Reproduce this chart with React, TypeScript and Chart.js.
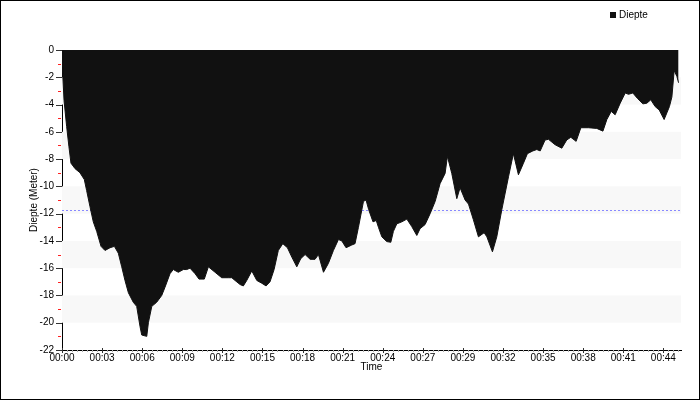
import React, { useEffect, useRef } from "react";
import { Chart, registerables } from "chart.js";

Chart.register(...registerables);

// Dive profile: time (minutes) and depth (metres, negative = below surface)
const TIME_MIN = [
  0, 0.05, 0.15, 0.34, 0.51, 0.66, 0.96, 1.32, 1.64, 1.81,
  2.06, 2.3, 2.55, 2.87, 3.16, 3.53, 3.85, 4.14, 4.39, 4.63,
  4.88, 5.24, 5.49, 5.74, 5.86, 6.23, 6.35, 6.6, 6.96, 7.33,
  7.57, 7.94, 8.18, 8.55, 8.92, 9.17, 9.41, 9.78, 10.07, 10.46,
  10.76, 11.25, 11.74, 12.23, 12.48, 12.72, 13.09, 13.33, 13.58, 13.95,
  14.32, 14.68, 15.0, 15.29, 15.59, 15.9, 16.23, 16.57, 16.9, 17.26,
  17.55, 17.87, 18.24, 18.6, 18.85, 19.22, 19.58, 19.95, 20.32, 20.57,
  20.88, 21.3, 21.54, 21.79, 22.16, 22.35, 22.54, 22.86, 23.1, 23.26,
  23.51, 23.87, 24.17, 24.36, 24.61, 24.98, 25.35, 25.71, 26.08, 26.32,
  26.69, 27.06, 27.43, 27.79, 28.16, 28.33, 28.65, 29.02, 29.26, 29.63,
  29.88, 30.24, 30.61, 31.03, 31.23, 31.64, 31.96, 32.33, 32.82, 33.18,
  33.55, 33.92, 34.21, 34.61, 34.9, 35.15, 35.51, 35.76, 36.25, 36.74,
  37.1, 37.4, 37.79, 38.14, 38.7, 39.31, 39.76, 40.05, 40.37, 40.66,
  41.03, 41.4, 41.64, 41.96, 42.3, 42.7, 42.99, 43.28, 43.6, 43.9,
  44.26, 44.65, 44.83, 45.0, 45.2, 45.32,
];

const DEPTH_M = [
  0, -1.7, -3.7, -5.6, -7.1, -8.3, -8.7, -9.0, -9.5, -10.3,
  -11.5, -12.6, -13.3, -14.4, -14.7, -14.5, -14.4, -14.9, -15.9, -16.9,
  -17.8, -18.5, -18.8, -20.3, -20.9, -21.0, -20.0, -18.8, -18.5, -18.0,
  -17.4, -16.4, -16.1, -16.3, -16.1, -16.1, -16.0, -16.4, -16.8, -16.8,
  -15.9, -16.3, -16.7, -16.7, -16.7, -16.9, -17.2, -17.3, -16.9, -16.2,
  -16.9, -17.1, -17.3, -17.0, -16.1, -14.7, -14.2, -14.5, -15.2, -15.9,
  -15.3, -15.0, -15.35, -15.35, -15.0, -16.3, -15.65, -14.7, -13.9, -14.0,
  -14.5, -14.3, -14.2, -13.0, -11.1, -11.0, -11.7, -12.6, -12.5, -13.0,
  -13.7, -14.05, -14.1, -13.3, -12.75, -12.6, -12.4, -12.95, -13.6, -13.1,
  -12.8, -12.0, -11.1, -9.8, -9.05, -7.8, -9.05, -10.9, -10.1, -11.0,
  -11.3, -12.45, -13.7, -13.4, -13.7, -14.8, -13.7, -11.7, -9.3, -7.6,
  -9.15, -8.3, -7.6, -7.4, -7.3, -7.4, -6.6, -6.55, -6.95, -7.2,
  -6.6, -6.4, -6.7, -5.7, -5.7, -5.75, -5.95, -5.1, -4.5, -4.75,
  -3.9, -3.15, -3.25, -3.15, -3.55, -3.95, -3.9, -3.65, -4.15, -4.4,
  -5.1, -4.15, -3.45, -1.5, -1.95, -2.4,
];

const SERIES_LABEL = "Diepte";
const AVG_DEPTH = -11.73;
const X_MAX = 45.5;
const X_TICK_STEP = 2.947; // minutes between labelled ticks
const X_MINOR_PER_MAJOR = 8;
const X_TICK_LABELS = [
  "00:00", "00:03", "00:06", "00:09", "00:12", "00:15", "00:18", "00:21",
  "00:24", "00:27", "00:29", "00:32", "00:35", "00:38", "00:41", "00:44",
];
const Y_MIN = -22;
const Y_MAX = 0;
const Y_MAJOR_STEP = 2;
const BAND_RANGES = [
  [-2, -4],
  [-6, -8],
  [-10, -12],
  [-14, -16],
  [-18, -20],
];

const FONT = "'Liberation Sans', Arial, sans-serif";
const FONT_SIZE = 10;

const isMajorX = (v: number) => {
  const k = v / X_TICK_STEP;
  return Math.abs(k - Math.round(k)) < 1e-6;
};
const isMajorY = (v: number) => Math.abs(Math.round(v)) % Y_MAJOR_STEP === 0;

export default function App() {
  const ref = useRef<HTMLCanvasElement | null>(null);

  useEffect(() => {
    if (!ref.current) return;

    const bgPlugin = {
      id: "bg",
      beforeDraw(chart: any) {
        const c = chart.ctx;
        c.save();
        c.fillStyle = "#ffffff";
        c.fillRect(0, 0, chart.width, chart.height);
        c.restore();
      },
    };

    const bandsPlugin = {
      id: "bands",
      beforeDatasetsDraw(chart: any) {
        const c = chart.ctx;
        const { left, right } = chart.chartArea;
        const y = chart.scales.y;
        c.save();
        c.fillStyle = "#f8f8f8";
        BAND_RANGES.forEach(([a, b]) => {
          const y1 = y.getPixelForValue(a);
          const y2 = y.getPixelForValue(b);
          c.fillRect(left, Math.min(y1, y2), right - left, Math.abs(y2 - y1));
        });
        // average depth line
        const ya = Math.round(y.getPixelForValue(AVG_DEPTH)) + 0.5;
        c.strokeStyle = "#8888ff";
        c.lineWidth = 1;
        c.setLineDash([2, 2]);
        c.beginPath();
        c.moveTo(left, ya);
        c.lineTo(right, ya);
        c.stroke();
        c.restore();
      },
    };

    const ticksPlugin = {
      id: "axisTicks",
      afterDraw(chart: any) {
        const c = chart.ctx;
        const xs = chart.scales.x;
        const ys = chart.scales.y;
        const left = Math.round(chart.chartArea.left);
        const bottom = Math.round(chart.chartArea.bottom);
        c.save();
        c.lineWidth = 1;
        c.setLineDash([]);
        // y ticks
        for (let v = Y_MIN; v <= Y_MAX; v++) {
          const py = Math.round(ys.getPixelForValue(v)) + 0.5;
          const major = isMajorY(v);
          c.strokeStyle = major ? "#333333" : "#ff2020";
          c.beginPath();
          if (major) {
            c.moveTo(left - 6, py);
            c.lineTo(left, py);
          } else {
            c.moveTo(left - 4, py);
            c.lineTo(left - 1, py);
          }
          c.stroke();
        }
        // x ticks
        xs.ticks.forEach((t: any) => {
          const px = Math.round(xs.getPixelForValue(t.value)) + 0.5;
          const major = isMajorX(t.value);
          c.strokeStyle = major ? "#333333" : "#aaaaaa";
          c.beginPath();
          if (major) {
            c.moveTo(px, bottom - 2);
            c.lineTo(px, bottom + 3);
          } else {
            c.moveTo(px, bottom);
            c.lineTo(px, bottom + 2);
          }
          c.stroke();
        });
        c.restore();
      },
    };

    const legendPlugin = {
      id: "customLegend",
      afterDraw(chart: any) {
        const c = chart.ctx;
        c.save();
        c.fillStyle = "#111111";
        c.fillRect(610, 12, 6, 6);
        c.fillStyle = "#000000";
        c.font = `${FONT_SIZE}px ${FONT}`;
        c.textBaseline = "middle";
        c.textAlign = "left";
        c.fillText(SERIES_LABEL, 619, 15.5);
        // outer border
        c.strokeStyle = "#000000";
        c.lineWidth = 1;
        c.strokeRect(0.5, 0.5, chart.width - 1, chart.height - 1);
        c.restore();
      },
    };

    const chart = new Chart(ref.current, {
      type: "line",
      data: {
        datasets: [
          {
            label: SERIES_LABEL,
            data: TIME_MIN.map((t, i) => ({ x: t, y: DEPTH_M[i] })),
            fill: "origin",
            backgroundColor: "#111111",
            borderColor: "#111111",
            borderWidth: 1,
            pointRadius: 0,
            tension: 0,
          },
        ],
      },
      options: {
        animation: false,
        responsive: false,
        layout: { padding: { top: 50, right: 19, left: 0, bottom: 0 } },
        plugins: {
          legend: { display: false },
          tooltip: { enabled: false },
        },
        scales: {
          x: {
            type: "linear",
            min: 0,
            max: X_MAX,
            afterBuildTicks(scale: any) {
              const ticks = [];
              const minor = X_TICK_STEP / X_MINOR_PER_MAJOR;
              for (let i = 0; i * minor <= X_MAX + 1e-9; i++) {
                ticks.push({ value: i * minor });
              }
              scale.ticks = ticks;
            },
            afterFit(scale: any) {
              scale.height = 50;
            },
            ticks: {
              autoSkip: false,
              maxRotation: 0,
              minRotation: 0,
              padding: 0,
              color: "#000000",
              font: { family: FONT, size: FONT_SIZE },
              callback(value: any) {
                const v = Number(value);
                if (!isMajorX(v)) return "";
                const k = Math.round(v / X_TICK_STEP);
                return X_TICK_LABELS[k] ?? "";
              },
            },
            grid: {
              display: false,
              drawTicks: true,
              tickLength: 2,
            },
            border: { display: true, color: "#000000" },
            title: {
              display: true,
              text: "Time",
              color: "#000000",
              font: { family: FONT, size: FONT_SIZE },
              padding: { top: 0, bottom: 27 },
            },
          },
          y: {
            type: "linear",
            min: Y_MIN,
            max: Y_MAX,
            afterFit(scale: any) {
              scale.width = 62;
            },
            ticks: {
              stepSize: Y_MAJOR_STEP,
              autoSkip: false,
              padding: 3,
              color: "#000000",
              font: { family: FONT, size: FONT_SIZE },
            },
            grid: {
              display: false,
              drawTicks: true,
              tickLength: 5,
            },
            border: { display: true, color: "#000000" },
            title: {
              display: true,
              text: "Diepte (Meter)",
              color: "#000000",
              font: { family: FONT, size: FONT_SIZE },
              padding: { top: 28, bottom: 0 },
            },
          },
        },
      },
      plugins: [bgPlugin, bandsPlugin, ticksPlugin, legendPlugin],
    } as any);

    return () => chart.destroy();
  }, []);

  return (
    <div style={{ position: "absolute", left: 0, top: 0, width: 700, height: 400 }}>
      <canvas ref={ref} width={700} height={400} style={{ display: "block" }} />
    </div>
  );
}
